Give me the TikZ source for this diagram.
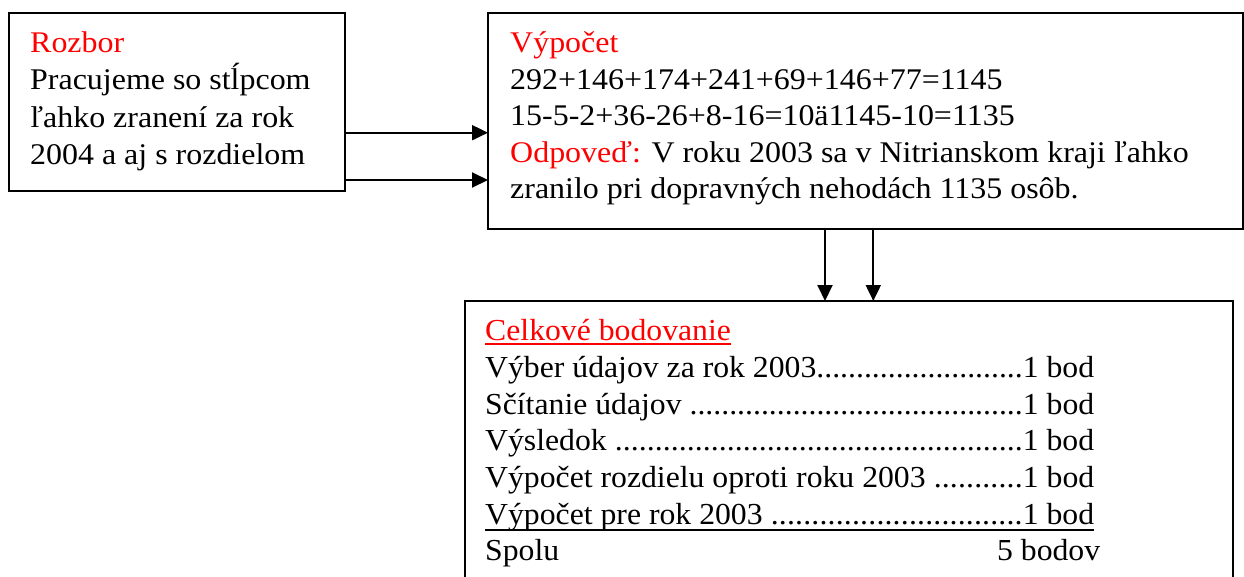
\documentclass[tikz,border=0pt]{standalone}
\usepackage{fontspec}
\setmainfont{Liberation Serif}
\newfontfamily\siroke[FakeStretch=1.065]{Liberation Serif}
\newfontfamily\uzke[FakeStretch=1.04]{Liberation Serif}
\usetikzlibrary{arrows.meta}
\newcommand{\bodky}{\xleaders\hbox{.}\hfill}
\begin{document}
\begin{tikzpicture}[x=1pt,y=-1pt,
	ramec/.style={draw,line width=2pt,inner sep=0pt,outer sep=0pt,anchor=north west},
	riadok/.style={anchor=base west,inner sep=0pt,font=\siroke\fontsize{30pt}{34pt}\selectfont},
	riadokc/.style={anchor=base west,inner sep=0pt,font=\uzke\fontsize{30.5pt}{36pt}\selectfont},
	sipka/.style={line width=2pt,-{Triangle[length=16pt,width=15pt]}}]
		\useasboundingbox (0,0) rectangle (1244,576);
		\clip (0,0) rectangle (1244,576);
		\node[ramec,minimum width=336pt,minimum height=178pt](rozbor) at (9,13){};
		\node[ramec,minimum width=755pt,minimum height=216pt](vypocet) at (488,13){};
		\node[ramec,minimum width=768pt,minimum height=299pt](bodovanie) at (465,301){};
		\node[riadok,text=red](a0) at (30,52.3){Rozbor};
		\node[riadok](a1) at (30,89.8){Pracujeme so stĺpcom};
		\node[riadok](a2) at (30,127.3){ľahko zranení za rok};
		\node[riadok](a3) at (30,164.8){2004 a aj s rozdielom};
		\node[riadok,text=red](b0) at (510,52.5){Výpočet};
		\node[riadok](b1) at (510,89.1){292+146+174+241+69+146+77=1145};
		\node[riadok](b2) at (510,125.7){15-5-2+36-26+8-16=10ä1145-10=1135};
		\node[riadok](b3) at (510,162.3){\textcolor{red}{Odpoveď:} V roku 2003 sa v Nitrianskom kraji ľahko};
		\node[riadok](b4) at (510,198.9){zranilo pri dopravných nehodách 1135 osôb.};
		\node[riadokc,text=red](c0) at (485,340.7){Celkové bodovanie};
		\node[riadokc](c1) at (485,377.4){\makebox[609pt][l]{Výber údajov za rok 2003\bodky 1 bod}};
		\node[riadokc](c2) at (485,414.1){\makebox[609pt][l]{Sčítanie údajov \bodky 1 bod}};
		\node[riadokc](c3) at (485,450.8){\makebox[609pt][l]{Výsledok \bodky 1 bod}};
		\node[riadokc](c4) at (485,487.5){\makebox[609pt][l]{Výpočet rozdielu oproti roku 2003 \bodky 1 bod}};
		\node[riadokc](c5) at (485,524.2){\makebox[609pt][l]{Výpočet pre rok 2003 \bodky 1 bod}};
		\node[riadokc](c6) at (485,560.9){\makebox[615pt][l]{Spolu\hfill 5 bodov}};
		\draw[red,line width=2pt]([yshift=-3pt]c0.base west)--([yshift=-3pt]c0.base east);
		\draw[line width=2pt]([yshift=-6pt]c5.base west)--([yshift=-6pt]c5.base east);
		\draw[sipka](rozbor.east |- 0,132.7)--(vypocet.west |- 0,132.7);
		\draw[sipka](rozbor.east |- 0,180)--(vypocet.west |- 0,180);
		\draw[sipka](vypocet.south -| 825,0)--(bodovanie.north -| 825,0);
		\draw[sipka](vypocet.south -| 873.3,0)--(bodovanie.north -| 873.3,0);
	    \end{tikzpicture}
\end{document}
